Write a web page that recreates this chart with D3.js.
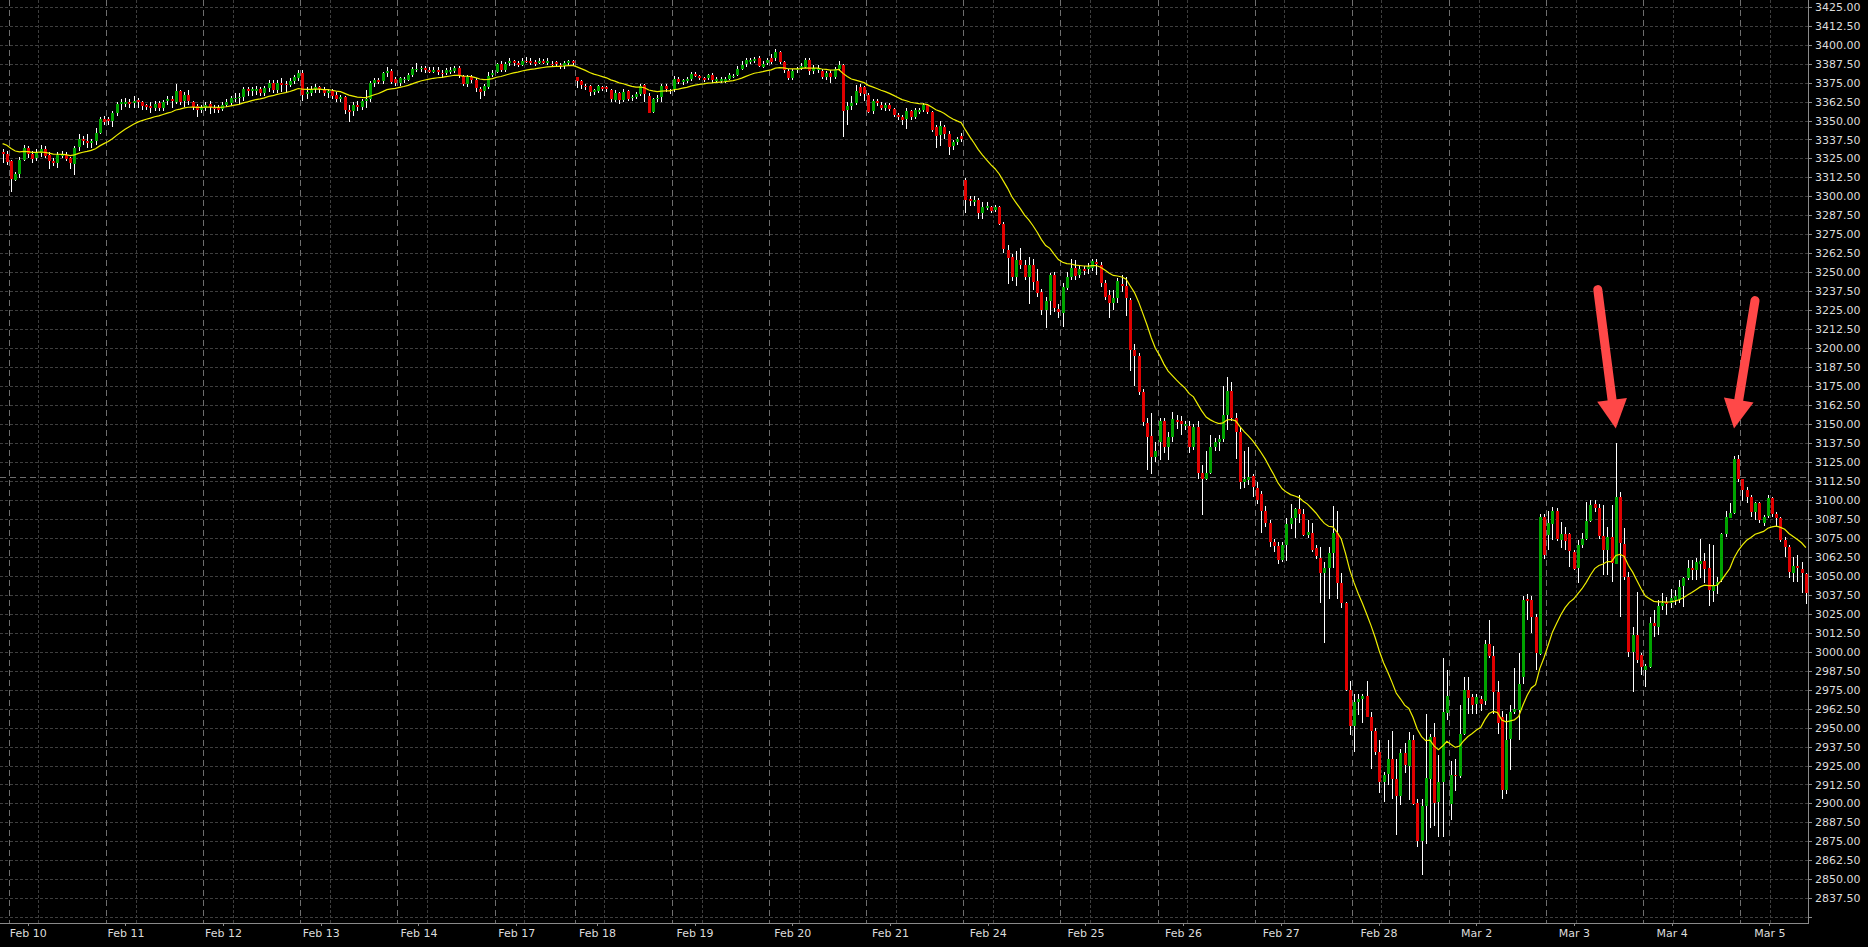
<!DOCTYPE html>
<html><head><meta charset="utf-8">
<script src="https://cdn.jsdelivr.net/npm/d3@7"></script>
<style>
html,body{margin:0;padding:0;background:#000;overflow:hidden}
svg{display:block}
.axis text{font-family:"DejaVu Sans",Verdana,sans-serif;font-size:11px;fill:#dcdcdc}
</style></head><body>
<svg id="chart" width="1868" height="947"></svg>
<script>
// ---------------- data ----------------
const dayLabels = ["Feb 10","Feb 11","Feb 12","Feb 13","Feb 14","Feb 17","Feb 18","Feb 19","Feb 20","Feb 21","Feb 24","Feb 25","Feb 26","Feb 27","Feb 28","Mar 2","Mar 3","Mar 4","Mar 5"];
const dayBarCounts = [23,23,23,23,23,19,23,23,23,23,23,23,23,23,23,23,23,23,16];
const preBars = 2; // tail of Feb 7 session visible at left edge

const open = [
3329,3328,
3323,3311,3315,3324,3332,3328,3325,3329,3331.5,3327,3323,3322,3327,3327.5,3325,3321.5,3332,3337.5,3336.5,3335,3336.5,3342,3351,
3351,3350,3355,3361,3361.5,3362.5,3361.5,3363.5,3362.5,3360,3359.5,3358.5,3361.5,3358.5,3362.5,3364,3362.5,3369.5,3362.5,3366.5,3362.5,3359.5,3357,
3358.5,3361,3358.5,3358.5,3357.5,3360,3362,3365,3365,3365.5,3370.5,3369,3370,3371,3368.5,3371.5,3375,3370.5,3375,3374,3373.5,3376,3378.5,
3381.5,3367,3368.5,3371,3372,3370.5,3368,3369.5,3366.5,3364,3365.5,3357,3356,3360,3359,3363,3364,3374.5,3376.5,3375.5,3381,3382.5,3377.5,
3375,3377,3377,3380.3,3384,3384,3384.5,3383.5,3382.5,3383,3381.5,3381,3382,3382.5,3384.6,3379.2,3374.1,3378.7,3376.5,3371,3369.3,3372.6,3380.3,
3382.5,3387.5,3383.6,3387.5,3389,3388,3387,3389.5,3389.5,3388.5,3388,3389.5,3388,3387,3388.4,3386.5,3386.2,3387.5,3389,
3378.5,3375.9,3372.8,3372.6,3368.6,3369.3,3372.2,3371.9,3370,3363.8,3368.2,3363.8,3369.3,3364.6,3365.6,3367.1,3373.2,3366.4,3355.5,3364.3,3365.6,3372.6,3370,
3370.8,3377.4,3375.2,3375.9,3377.4,3380.7,3379.2,3378.1,3378.1,3379.8,3375.9,3376.5,3375.9,3377.4,3379.2,3380.3,3384,3386.8,3388.6,3389,3391.2,3385.7,3387.5,
3391.2,3391.2,3395,3388.4,3382.9,3378.5,3383.5,3384,3385.3,3389.7,3382.5,3383.1,3382.5,3378.5,3381.4,3378.5,3384,3386.8,3356.8,3359.4,3361.6,3371.9,3371.9,
3367.1,3356.1,3362.7,3360.5,3358.3,3360.1,3357.7,3353.9,3352.2,3350.7,3356.1,3352.4,3355.5,3356.8,3360.1,3355.5,3345.8,3340.1,3345.8,3341.4,3333.1,3335.7,3340.1,
3311,3298,3296.5,3297.5,3289,3292.5,3293,3291,3293,3282,3265,3260,3247,3258,3255,3247,3255,3244,3237,3225,3231,3248,3226,
3223,3240,3247,3253,3248,3252,3252,3253,3256.5,3255,3243,3235,3230,3233,3242,3241,3232,3199,3195,3171,3151,3142,3128,
3138,3152,3135,3141,3152.5,3152,3149,3149,3135,3148,3118,3114,3118,3135,3138,3140,3156,3172,3154,3145,3112,3113,3116,
3108,3104,3093,3085,3072,3069.5,3060,3070,3084,3088,3094,3091,3077,3078,3068,3062,3052,3055,3065,3078,3045,3032,2975,
2951,2967,2969,2971,2957,2948,2934,2914.5,2919,2929,2916,2904.5,2933,2925,2942,2900,2875,2898,2916.5,2944,2900.5,2914,2960,
2900,2919,2918.5,2946,2975,2970,2965.5,2969,2967,3005,2997,2973.6,2957,2909,2942,2960,2962,2983,3034.5,3034,3023,2999,3089,
3077,3084.6,3093,3073.6,3077.5,3077.5,3066,3055,3070.3,3074,3086,3097,3094.5,3076,3067,3075.4,3058.2,3101.7,3071,3049.4,3000,3011,2997.8,
2988,2990,3018.7,3016.5,3030,3032.8,3031.9,3034.3,3034.3,3042.8,3048.3,3055,3053.8,3058,3060,3054.9,3040,3044,3047,3077.5,3088.5,3091.6,3127,
3113.6,3106.5,3102,3092,3097.7,3085,3089,3101,3090.7,3087.9,3073.6,3068.7,3052,3056.4,3054.5,3051
];
const high = [
3331,3330,
3324,3316,3326,3334,3333,3330,3331,3334,3333,3329,3325,3329,3330,3329,3326,3333,3341,3340,3341,3338,3345,3352,3353,
3352,3356,3362,3364,3365,3364,3366,3365,3363,3361,3362,3363,3363,3363.5,3366,3366,3374,3370,3369,3370,3363,3361,3360,
3362,3363,3360,3360,3362,3364,3366,3368,3368,3372,3372,3372,3373,3372,3373,3377,3377,3377,3378,3376,3378,3380,3383,
3383,3372,3373,3374,3373,3372,3371,3371,3369,3367,3366,3360,3362,3363,3364,3370,3376,3378,3378,3382,3385,3384,3379,
3379,3379,3381,3385,3388,3386,3386,3385,3385,3385,3383,3384.5,3385,3386,3386,3380,3380,3380,3378,3372,3374,3382,3383,
3388,3389,3388.5,3391,3390,3389.5,3391,3392,3391,3390,3391,3390.5,3391,3389,3389,3388,3389,3390,3390,
3379,3377,3374,3373.5,3371,3373.5,3373,3372.5,3371,3370,3369,3370.5,3370,3367,3369,3374,3374,3368,3365,3366.5,3374,3374,3371,
3379.6,3378.5,3377.5,3378.5,3382,3382,3380,3379,3380.8,3381,3378.5,3379,3378.8,3381.5,3380.5,3386,3389,3391.5,3391.5,3392,3392.5,3389,3391,
3394,3397.4,3396,3389.5,3384,3384,3385.5,3388,3391,3391.5,3386.5,3386.5,3384,3382.5,3383,3385.5,3389,3387.5,3362,3366,3373.5,3374,3373,
3368,3364,3364,3362,3361.5,3361.5,3358.5,3355,3353.5,3358,3357,3358.5,3358,3361.5,3361,3356.5,3347,3350,3347,3343,3337,3339,3341.5,
3312,3300,3300,3299,3296,3296,3294,3294.5,3294,3283,3268,3262,3264,3266,3258,3260,3259,3252,3239,3234,3249.5,3250,3229,
3243,3250,3259,3258,3255,3254,3256,3259,3259,3257,3245,3238,3238,3246,3248,3247,3233,3203,3197,3173,3154,3157,3138,
3154,3154,3145,3158,3156,3155,3152,3152,3150,3152,3123,3132,3143,3141,3143,3175,3181,3178,3157,3148,3132,3135,3117,
3112,3106,3096,3087,3074,3072,3072,3088,3097,3095,3103,3094,3087,3085,3070,3069,3059,3069,3096,3093,3052,3033,2981,
2972,2972,2972,2981,2960,2950,2942,2921,2942,2948,2929,2936,2940,2947,2945,2903,2903,2959,2946,2953,2932,2995.6,2988,
2928,2929,2965,2983,2983,2972,2972,2971,3007.7,3021,3004,2981,2961,2959,2965,2989,2999,3037,3038,3037,3025,3091,3091,
3093,3095.6,3094.5,3085.7,3082,3078,3067,3073.6,3078,3098.8,3100,3100,3097,3096.6,3082.4,3096.6,3137.3,3105.4,3081.3,3052.7,3016.5,3039.5,2999,
2992,3022.6,3027.5,3034,3038.8,3036.2,3041,3040.6,3047.2,3049.4,3060.4,3060.4,3061.5,3074,3064.8,3071,3070,3049,3078,3092.9,3097.7,3128.9,3129.6,
3114,3108.7,3103,3098.8,3098.8,3090,3103.2,3102,3092,3089,3075.8,3070,3062.6,3063.7,3059.3,3051.6
];
const low = [
3322,3321,
3303,3310,3312,3323,3325,3322,3323,3326,3325,3318,3320,3319,3325,3323,3318,3314,3330,3334,3332,3332,3334,3341,3347,
3347,3346,3353,3357,3359,3358,3358,3358,3357,3357,3355,3356,3356,3356,3360,3358,3361,3360,3359,3360,3357,3352,3355,
3356,3354,3355,3355,3356,3359,3360,3362,3361,3363,3366,3366,3367,3366,3366,3369,3368,3368,3369,3369,3372,3374,3376,
3363,3364,3366,3368,3368,3366,3365,3364,3362,3362,3354,3349,3353,3356,3357,3358,3362,3372,3374,3374,3379,3374,3373,
3373,3375,3376,3379,3382,3382,3381,3381,3381,3380,3378,3380,3380.5,3381.5,3378,3373,3372,3375,3369,3364,3366,3371,3379,
3381,3382,3382,3386,3386,3385.5,3386,3388,3386.5,3386,3387,3387,3386.5,3385,3385.5,3384,3384,3386.5,3386.5,
3371.5,3371,3370,3366,3367,3368,3369.5,3369,3362.5,3362.5,3361,3362.5,3363,3363,3364.5,3366,3362.5,3355,3355,3362,3362.5,3368.5,3367.5,
3369,3374,3373.5,3374.5,3376,3378.5,3377,3375.5,3377,3374.5,3374.5,3375,3374.5,3376.5,3378,3379.5,3383,3385.5,3387.5,3388,3385,3384.5,3386.5,
3387,3389.5,3387,3381.5,3377,3377,3381.5,3383,3384.5,3380,3380.5,3381.5,3377.5,3377,3374.5,3377.5,3382.5,3339.3,3347,3357,3360,3366,3363,
3355,3354,3359.5,3357,3356.5,3356,3352.5,3350.5,3347,3344.1,3350.5,3351,3354,3355.5,3354.5,3342.5,3332,3333.5,3338,3327.6,3330.5,3334,3336,
3289,3294,3294,3285,3285,3291,3289,3290,3281,3263,3242,3244,3241,3252,3245,3229,3238,3234,3222,3213,3222,3224,3220,
3214,3238,3245,3245,3246,3248,3249,3251,3248,3240,3232,3220,3225,3230,3237,3221,3185,3175,3169,3149,3120,3117,3125,
3126,3131,3126,3138,3147,3143,3146,3131,3133,3114,3090,3113,3117,3132,3132,3138,3146,3152,3127,3107,3108,3110,3102,
3097,3078,3082,3069,3066,3058,3059,3060,3081,3075,3085,3076,3075,3066,3061,3032,3006,3035,3055,3035,3029,2974,2945,
2934,2958,2953,2957,2923,2932,2907,2901,2912,2903,2879,2899,2920,2902,2899,2871,2853,2873,2884,2885,2878,2878,2955,
2889,2908,2917,2945,2959,2959,2959,2961,2965,2996,2959,2946,2903,2906,2922,2959,2942,2979,3021,3012,2988,2998,3061,
3067,3073.6,3073,3068,3067,3056,3053.8,3045,3068,3073.6,3085.7,3092,3074,3050.5,3050.5,3046,3057.8,3023,3047.2,2996.7,2973.6,2992.3,2984.6,
2977,2989,3009.9,3011,3027.5,3024.2,3028.5,3030.8,3031.9,3029.7,3047.2,3047,3047,3048.3,3045,3030,3033,3038,3046,3075.8,3087.9,3091,3112,
3099,3098,3089,3087,3084.6,3083,3088,3089,3082.4,3072.5,3062.6,3048.3,3046.1,3046,3038.4,3031.4
];
const close = [
3328,3323,
3311,3315,3324,3332,3328,3325,3329,3331.5,3327,3323,3322,3327,3327.5,3325,3321.5,3332,3337.5,3336,3335,3336.5,3342,3351,3349,
3350,3355,3361,3362,3362.5,3361.5,3363,3362.5,3360,3359,3358.5,3361,3358.5,3362.5,3364,3362.5,3369.5,3362.5,3366.5,3362.5,3359.5,3357,3358.5,
3360.5,3359,3358,3357.5,3360,3362,3365,3365,3365.5,3370.5,3369,3370.5,3371,3368.5,3371.5,3375,3370.5,3375,3374,3373.5,3376,3378.5,3381.5,
3367,3368.5,3371,3372,3370.5,3368,3369.5,3366.5,3364,3365.5,3357,3356,3360,3359,3363,3364,3374.5,3376.5,3375.5,3381,3382.5,3375.5,3375,
3378,3377.5,3380.3,3384,3384,3384.5,3383,3382.5,3383.5,3381.5,3381,3383,3383.5,3384.6,3379.2,3374.1,3378.7,3376.5,3371.5,3369.3,3372.6,3379.6,3381.4,
3387.5,3383.6,3387.5,3389,3388,3386.8,3389.5,3389,3388,3387.5,3389.5,3388.5,3389.5,3386.8,3386.8,3386.2,3388,3389,3387.5,
3375.9,3373.2,3372.4,3368.6,3370,3372.6,3370.8,3370.4,3363.8,3368.2,3363.8,3368.9,3364.3,3365.3,3367.5,3372.6,3367.1,3355.5,3364.3,3364.9,3372.6,3370.4,3369.5,
3377.4,3375.2,3376.5,3377.4,3380.7,3379.6,3378.1,3377,3379.8,3376.5,3377.4,3377.6,3377.6,3380.3,3379.4,3384,3386.8,3389.7,3390.1,3390.6,3386.2,3387.5,3389.7,
3388.4,3395,3388.4,3382.9,3378.5,3382.9,3384,3386.2,3389.7,3382.5,3384.6,3384.6,3378.5,3381.4,3378.5,3384,3386.8,3356.8,3359.4,3361.6,3369.3,3368.2,3367.1,
3356.1,3362.7,3361.2,3358.8,3360.1,3357.2,3353.9,3352.4,3350,3356.1,3352.4,3357.2,3356.8,3360.1,3355.5,3343.6,3340.1,3346.3,3341.4,3333.1,3335.7,3337.9,3337.9,
3298,3297,3297.5,3289,3292.7,3293.5,3290.5,3293,3282,3265.4,3260,3247,3258,3255,3247,3255,3244,3236,3225,3231,3248,3226,3224,
3240,3247,3253,3248,3252,3251,3253.5,3257.5,3255,3243,3234,3230,3233,3244,3241,3233,3199,3195,3171,3151,3142,3128,3132,
3152,3135,3141.5,3153,3151,3150,3150,3135,3148,3118,3114,3118,3135,3138,3140,3156,3172,3154,3144.5,3112,3114,3115,3109,
3100,3093,3085,3072.4,3069.5,3060,3070,3084,3088,3094,3091,3077,3079,3067,3063,3052,3055,3065,3078,3045,3032,2975,2951,
2967,2969,2971,2957,2948,2934,2914.5,2919,2929,2916,2904.5,2933,2925,2942,2900,2875,2898,2916.5,2944,2900.5,2914,2960,2971,
2919,2918.5,2946,2975,2970,2965,2970,2966,3004.8,2997,2973.6,2953,2909,2942,2960,2962,2979,3034,3033,3023,2999,3089,3064,
3084.6,3093,3074.7,3077.5,3073,3066,3055,3070.3,3074,3086,3096.6,3094.5,3076,3067,3075.4,3058.2,3102.1,3071.4,3049.4,3000,3011,2994.5,2990,
2990.5,3018.7,3016.5,3030.1,3032,3031.8,3035.1,3036.7,3042.8,3048.3,3054.9,3053.8,3059.3,3060,3054.9,3040.2,3044,3046,3077.5,3088.5,3091.6,3127,3113.6,
3106.5,3102,3092,3097.7,3086.8,3089,3101,3090.7,3087.9,3073.6,3068.7,3052,3056.4,3054.9,3051.6,3038.4
];

const priceTickLabels = [3425,3412.5,3400,3387.5,3375,3362.5,3350,3337.5,3325,3312.5,3300,3287.5,3275,3262.5,3250,3237.5,3225,3212.5,3200,3187.5,3175,3162.5,3150,3137.5,3125,3112.5,3100,3087.5,3075,3062.5,3050,3037.5,3025,3012.5,3000,2987.5,2975,2962.5,2950,2937.5,2925,2912.5,2900,2887.5,2875,2862.5,2850,2837.5];
const gridOnlyLevels = [2825];
const emaPeriod = 20;
const emaSeed = 3335.5;     // indicator level at the left edge
const refLevel = 3115;      // dashed horizontal reference line
const arrowNotes = [{bar:382, price:3147}, {bar:410, price:3147}];

// ---------------- layout ----------------
const svg = d3.select("#chart");
const plotR = 1808, plotB = 923;
const n = Math.min(open.length, high.length, low.length, close.length);
const barStep = 4.223;
const x = d3.scaleLinear().domain([0, n - 1]).range([2.6, 2.6 + (n - 1) * barStep]);
const y = d3.scaleLinear().domain([3425, 2837.5]).range([6.7, 898.3]);

svg.append("rect").attr("width", 1868).attr("height", 947).attr("fill", "#000");

const dayStarts = [];
{ let s = preBars; dayBarCounts.forEach(c => { dayStarts.push(s); s += c; }); }

const defs = svg.append("defs");
defs.append("clipPath").attr("id", "plotclip").append("rect")
  .attr("x", 0).attr("y", 0).attr("width", plotR).attr("height", plotB);

// grid
const grid = svg.append("g").attr("shape-rendering", "crispEdges");
grid.selectAll("line.h").data(priceTickLabels.concat(gridOnlyLevels)).join("line")
  .attr("x1", 0).attr("x2", plotR)
  .attr("y1", d => Math.round(y(d)) + 0.5).attr("y2", d => Math.round(y(d)) + 0.5)
  .attr("stroke", "#3e3e3e").attr("stroke-dasharray", "3,2");
grid.selectAll("line.vdot").data(dayStarts).join("line")
  .attr("x1", d => Math.round(x(d + 6.5)) + 0.5).attr("x2", d => Math.round(x(d + 6.5)) + 0.5)
  .attr("y1", 0).attr("y2", plotB)
  .attr("stroke", "#3e3e3e").attr("stroke-dasharray", "3,2");
grid.selectAll("line.vsep").data(dayStarts).join("line")
  .attr("x1", d => Math.round(x(d - 0.5)) + 0.5).attr("x2", d => Math.round(x(d - 0.5)) + 0.5)
  .attr("y1", 0).attr("y2", plotB)
  .attr("stroke", "#6e6e6e").attr("stroke-dasharray", "6,4");
grid.append("line")
  .attr("x1", 0).attr("x2", plotR)
  .attr("y1", Math.round(y(refLevel)) + 0.5).attr("y2", Math.round(y(refLevel)) + 0.5)
  .attr("stroke", "#6e6e6e").attr("stroke-dasharray", "6,4");

// candles
const idx = d3.range(n);
const cg = svg.append("g").attr("clip-path", "url(#plotclip)").attr("shape-rendering", "crispEdges");
cg.selectAll("line.wick").data(idx).join("line")
  .attr("x1", i => Math.round(x(i)) + 0.5).attr("x2", i => Math.round(x(i)) + 0.5)
  .attr("y1", i => y(high[i])).attr("y2", i => y(low[i]))
  .attr("stroke", "#ffffff").attr("stroke-width", 1);
cg.selectAll("rect.body").data(idx).join("rect")
  .attr("x", i => Math.round(x(i)) - 1).attr("width", 3)
  .attr("y", i => Math.round(y(Math.max(open[i], close[i]))))
  .attr("height", i => Math.max(1, Math.round(Math.abs(y(open[i]) - y(close[i])))))
  .attr("fill", i => close[i] >= open[i] ? "#00a400" : "#e00000");

// moving average (exponential, period 20)
const alpha = 2 / (emaPeriod + 1);
const ema = [];
{ let e = emaSeed; for (let i = 0; i < n; i++) { e = e + alpha * (close[i] - e); ema.push(e); } }
svg.append("path").attr("clip-path", "url(#plotclip)")
  .attr("d", d3.line().x((d, i) => x(i)).y(d => y(d))(ema))
  .attr("fill", "none").attr("stroke", "#eeee00").attr("stroke-width", 1.2);

// axes frame
svg.append("line").attr("x1", plotR + 0.5).attr("x2", plotR + 0.5).attr("y1", 0).attr("y2", plotB + 0.5)
  .attr("stroke", "#8a8a8a").attr("shape-rendering", "crispEdges");
svg.append("line").attr("x1", 0).attr("x2", plotR + 0.5).attr("y1", plotB + 0.5).attr("y2", plotB + 0.5)
  .attr("stroke", "#8a8a8a").attr("shape-rendering", "crispEdges");

// right price axis
const yAxis = d3.axisRight(y).tickValues(priceTickLabels).tickFormat(d3.format(".2f")).tickSize(4).tickPadding(3);
const ya = svg.append("g").attr("class", "axis").attr("transform", `translate(${plotR},0)`).call(yAxis);
ya.select(".domain").remove();
ya.selectAll(".tick line").attr("stroke", "#8a8a8a").attr("shape-rendering", "crispEdges");
svg.append("line").attr("x1", plotR).attr("x2", plotR + 4)
  .attr("y1", Math.round(y(gridOnlyLevels[0])) + 0.5).attr("y2", Math.round(y(gridOnlyLevels[0])) + 0.5)
  .attr("stroke", "#8a8a8a").attr("shape-rendering", "crispEdges");

// bottom date axis (labels sit on their own slightly wider scale, as in the original)
const xLab = d3.scaleLinear().domain([2, 412]).range([27.7, 1769.3]);
const xAxis = d3.axisBottom(xLab).tickValues(dayStarts).tickFormat((d, i) => dayLabels[i]).tickSize(3).tickPadding(3);
const xa = svg.append("g").attr("class", "axis").attr("transform", `translate(0,${plotB})`).call(xAxis);
xa.select(".domain").remove();
xa.selectAll(".tick line").attr("stroke", "#8a8a8a").attr("shape-rendering", "crispEdges");

// annotation arrows
const arrowTails = [[-18, -139], [21, -128]];
const ag = svg.append("g");
arrowNotes.forEach((a, k) => {
  const tx = x(a.bar), ty = y(a.price);
  const sx = tx + arrowTails[k][0], sy = ty + arrowTails[k][1];
  const len = Math.hypot(sx - tx, sy - ty);
  const ux = (sx - tx) / len, uy = (sy - ty) / len;
  const headL = 29, headW = 15;
  const bx = tx + ux * headL, by = ty + uy * headL;
  const nx = -uy, ny = ux;
  ag.append("line").attr("x1", sx).attr("y1", sy).attr("x2", bx - ux * 2).attr("y2", by - uy * 2)
    .attr("stroke", "#ff4848").attr("stroke-width", 9).attr("stroke-linecap", "round");
  ag.append("path")
    .attr("d", `M${tx},${ty}L${bx + nx * headW},${by + ny * headW}L${bx - nx * headW},${by - ny * headW}Z`)
    .attr("fill", "#ff4848");
});
</script>
</body></html>
